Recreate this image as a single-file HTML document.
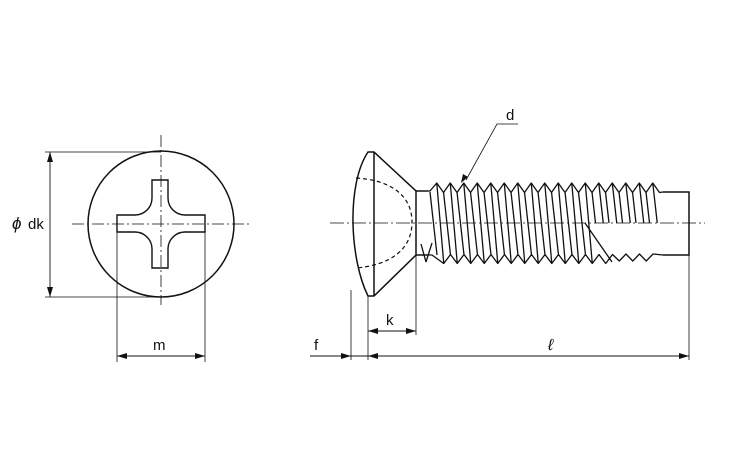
<!DOCTYPE html>
<html><head><meta charset="utf-8"><style>
html,body{margin:0;padding:0;background:#fff}
svg{display:block}
text{font-family:"Liberation Sans",sans-serif;fill:#111}
</style></head><body>
<svg id="s" width="750" height="450" viewBox="0 0 750 450" xmlns="http://www.w3.org/2000/svg">
<defs>
<marker id="a" viewBox="0 0 10 6" refX="10" refY="3" markerWidth="10" markerHeight="6" markerUnits="userSpaceOnUse" orient="auto-start-reverse"><path d="M0,0L10,3L0,6z" fill="#111"/></marker>
</defs>
<g stroke="#111" fill="none" stroke-width="1.1">
<circle cx="161" cy="224" r="73" stroke-width="1.5"/>
<path stroke-width="1.4" d="M152,180 H168 V198 A17,17 0 0 0 185,215 H205 V232 H185 A17,17 0 0 0 168,249 V268 H152 V249 A17,17 0 0 0 135,232 H117 V215 H135 A17,17 0 0 0 152,198 Z"/>
<path stroke-width="0.8" stroke-dasharray="12,3,2,3" d="M161,135 V305 M72,224 H250"/>
<path stroke-width="0.8" d="M45,152 H161 M45,297 H161 M117,232 V362 M205,232 V362"/>
<line x1="50" y1="152" x2="50" y2="297" stroke-width="0.9" marker-start="url(#a)" marker-end="url(#a)"/>
<line x1="117" y1="356" x2="205" y2="356" stroke-width="0.9" marker-start="url(#a)" marker-end="url(#a)"/>
<path stroke-width="1.5" d="M368,152 H374 L416,191 V255 L374,296 H368 C350,260 346,185 368,152 Z"/>
<line x1="374" y1="152" x2="374" y2="296" stroke-width="1.5"/>
<path stroke-width="1.2" stroke-dasharray="4,3" d="M356,178 C390,180 412,195 412,222 C412,250 390,265 356,268"/>
<path stroke-width="1.5" d="M416,191 H428 M416,255 H428 M663,192 H689 V255 H663"/>
<g id="th" stroke-width="1.3" stroke-linejoin="round"></g>
<path stroke-width="0.8" stroke-dasharray="14,3,2,3" d="M330,223 H705"/>
<path stroke-width="0.8" d="M351,290 V360 M368,296 V360 M416,255 V335 M689,255 V360"/>
<line x1="310" y1="356" x2="351" y2="356" stroke-width="0.9" marker-end="url(#a)"/>
<line x1="351" y1="356" x2="368" y2="356" stroke-width="0.9"/>
<line x1="368" y1="356" x2="689" y2="356" stroke-width="0.9" marker-start="url(#a)" marker-end="url(#a)"/>
<line x1="368" y1="331" x2="416" y2="331" stroke-width="0.9" marker-start="url(#a)" marker-end="url(#a)"/>
<path stroke-width="0.8" d="M518,124 H497 L466,180"/>
<path d="M461,183 L463,174 L468,177 Z" fill="#111" stroke="none"/>
</g>
<text x="12" y="229" font-size="17" font-style="italic">ϕ</text>
<text x="28" y="229" font-size="15">dk</text>
<text x="153" y="350" font-size="15">m</text>
<text x="314" y="350" font-size="15">f</text>
<text x="386" y="325" font-size="15">k</text>
<text x="548" y="350" font-size="16" font-style="italic">ℓ</text>
<text x="506" y="120" font-size="15">d</text>
</svg>
<script>
(function(){
var g=document.getElementById('th'),p=13.5,x0=430;
var top='M428,191 L'+x0+',191',bot='M428,255 L432,255',d='';
var tr=[],br=[];
for(var i=0;;i++){var x=x0+i*p; if(x+p>664)break;
 top+=' L'+(x+p*0.5)+',183 L'+(x+p)+',192.5'; tr.push(x);
}
top+=' L663,192';
var bx0=437;
for(var i=0;;i++){var x=bx0+i*p; if(x+p>662)break;
 var small=x>602, yc=small?261:263.5;
 bot+=' L'+(x+p*0.5)+','+yc+' L'+(x+p)+','+(small?254:254.5); br.push(x);
}
bot+=' L663,255';
d=top+' '+bot;
for(var i=0;i<tr.length;i++){var xt=tr[i];
 if(xt<582){d+=' M'+xt+',192 L'+(xt+7)+',255 M'+(xt+p*0.5)+',183 L'+(xt+p*0.5+7)+',263';}
 else{d+=' M'+xt+',192 L'+(xt+3.5)+',223 M'+(xt+p*0.5)+',183 L'+(xt+p*0.5+4.5)+',223';}
}
d+=' M585,223 L612,262 M426,262 L421,244 M426,262 L432,243';
var pa=document.createElementNS('http://www.w3.org/2000/svg','path');pa.setAttribute('d',d);g.appendChild(pa);
})();
</script>
</body></html>
